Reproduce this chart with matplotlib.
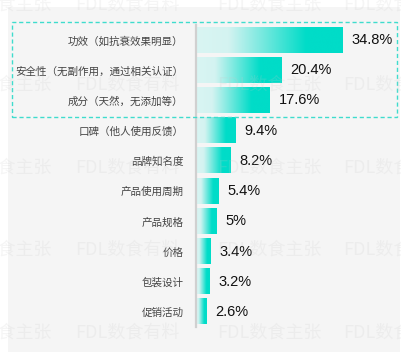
import numpy as np
import matplotlib
matplotlib.use('Agg')
import matplotlib.pyplot as plt
from matplotlib.colors import LinearSegmentedColormap
from matplotlib.patches import Rectangle

plt.rcParams['font.family'] = ['Noto Sans CJK SC', 'DejaVu Sans']

categories = ['功效（如抗衰效果明显）', '安全性（无副作用，通过相关认证）', '成分（天然，无添加等）',
              '口碑（他人使用反馈）', '品牌知名度', '产品使用周期', '产品规格',
              '价格', '包装设计', '促销活动']
values = [34.8, 20.4, 17.6, 9.4, 8.2, 5.4, 5, 3.4, 3.2, 2.6]
value_labels = ['34.8%', '20.4%', '17.6%', '9.4%', '8.2%', '5.4%', '5%', '3.4%', '3.2%', '2.6%']
watermarks = ['FDL数食主张', 'FDL数食有料', 'FDL数食主张', 'FDL数食有料']

W, H = 402, 360
fig = plt.figure(figsize=(W / 100, H / 100), dpi=100)
fig.patch.set_facecolor('white')

# gray panel behind everything
fig.patches.append(Rectangle((8 / W, 8 / H), 392 / W, 345 / H, transform=fig.transFigure,
                             facecolor='#f5f5f5', edgecolor='none', zorder=-1))

ax = fig.add_axes([196 / W, 33 / H, 201.6 / W, 302 / H])
ax.set_facecolor('none')
ax.set_zorder(1)

cmap = LinearSegmentedColormap.from_list('teal', [(0, '#d9f5f3'), (0.22, '#d4f3f1'),
                                                  (0.75, '#00dcc8'), (1, '#00dcc8')])
grad = np.linspace(0, 1, 256).reshape(1, -1)
h = 0.83
for i, v in enumerate(values):
    ax.imshow(grad, extent=[0, v, i + h / 2, i - h / 2], aspect='auto', cmap=cmap,
              interpolation='bicubic', zorder=2)
    ax.text(v + 2.1, i, value_labels[i], va='center', ha='left', fontsize=10.5,
            color='#111111', family=['Liberation Sans', 'DejaVu Sans'], zorder=3)

ax.set_xlim(0, 48)
ax.set_ylim(len(values) - 0.5, -0.5)
ax.set_yticks(range(len(categories)))
ax.set_yticklabels(categories, fontsize=7.6, color='#444444')
ax.tick_params(axis='y', length=0, pad=9)
ax.set_xticks([])
for s in ['top', 'right', 'bottom']:
    ax.spines[s].set_visible(False)
ax.spines['left'].set_color('#d0d0d0')
ax.spines['left'].set_linewidth(1.6)
ax.spines['left'].set_zorder(4)

# dashed highlight box around top three
fig.patches.append(Rectangle((12 / W, 243 / H), 385 / W, 95 / H, transform=fig.transFigure,
                             facecolor='none', edgecolor='#3fdccd', linewidth=1.0,
                             linestyle=(0, (3, 2)), zorder=5))

# faint watermarks
for ty in [5, 85, 168, 250, 333]:
    for k, tx in enumerate([-53, 75, 217, 343]):
        fig.text(tx / W, 1 - ty / H, watermarks[k], fontsize=13, style='italic',
                 color='#c8c8c8', alpha=0.18, va='center', ha='left', zorder=10)

fig.savefig('out.png', dpi=100)
